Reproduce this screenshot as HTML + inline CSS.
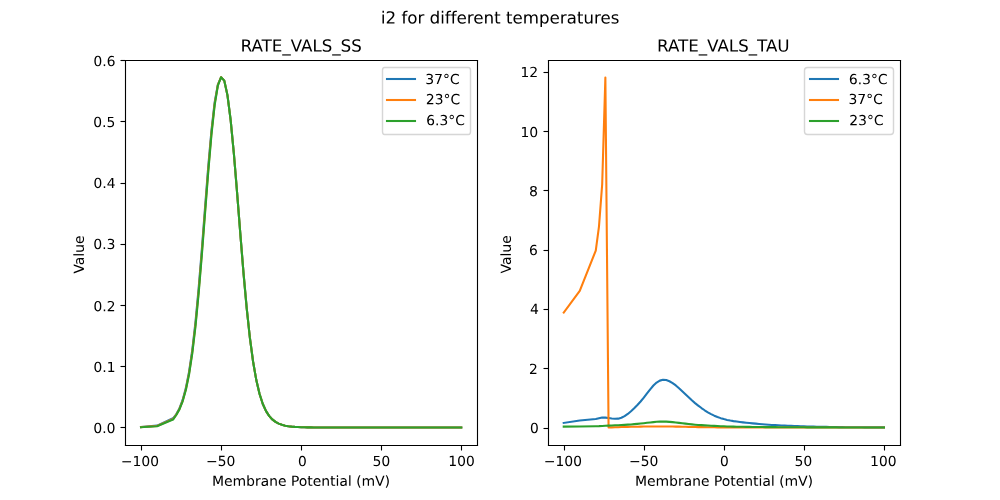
<!DOCTYPE html>
<html><head><meta charset="utf-8"><title>i2 for different temperatures</title>
<style>html,body{margin:0;padding:0;background:#fff;width:1000px;height:500px;overflow:hidden;font-family:"Liberation Sans",sans-serif}#chart{position:absolute;left:0;top:0;width:1000px;height:500px}#labels{position:absolute;left:0;top:0;width:1000px;height:500px;overflow:hidden;pointer-events:none}#labels span{position:absolute;white-space:nowrap;line-height:1;color:transparent;font-family:"Liberation Sans",sans-serif}</style></head>
<body>
<div id="chart">
<svg width="1000" height="500" viewBox="0 0 720 360" style="display:block">
 <defs>
  <style type="text/css">*{stroke-linejoin: round; stroke-linecap: butt}</style>
 </defs>
 <g id="figure_1">
  <g id="patch_1">
   <path d="M 0 360 L 720 360 L 720 0 L 0 0 z
" style="fill: #ffffff"/>
  </g>
  <g id="axes_1">
   <g id="patch_2">
    <path d="M 90 320.4 L 343.636364 320.4 L 343.636364 43.2 L 90 43.2 z
" style="fill: #ffffff"/>
   </g>
   <g id="matplotlib.axis_1">
    <g id="xtick_1">
     <g id="line2d_1">
      <defs>
       <path id="m1504cfccaf" d="M 0 0 L 0 3.6 
" style="stroke: #000000; stroke-width: 0.8"/>
      </defs>
      <g>
       <use href="#m1504cfccaf" x="101.88" y="320.76" style="stroke: #000000; stroke-width: 0.8"/>
      </g>
     </g>
     <g id="text_1">
      <g transform="translate(87.0360 335.6087) scale(0.1 -0.1)">
       <defs>
        <path id="DejaVuSans-2212" d="M 678 2272 L 4684 2272 L 4684 1741 L 678 1741 L 678 2272 z
" transform="scale(0.015625)"/>
        <path id="DejaVuSans-31" d="M 794 531 L 1825 531 L 1825 4091 L 703 3866 L 703 4441 L 1819 4666 L 2450 4666 L 2450 531 L 3481 531 L 3481 0 L 794 0 L 794 531 z
" transform="scale(0.015625)"/>
        <path id="DejaVuSans-30" d="M 2034 4250 Q 1547 4250 1301 3770 Q 1056 3291 1056 2328 Q 1056 1369 1301 889 Q 1547 409 2034 409 Q 2525 409 2770 889 Q 3016 1369 3016 2328 Q 3016 3291 2770 3770 Q 2525 4250 2034 4250 z M 2034 4750 Q 2819 4750 3233 4129 Q 3647 3509 3647 2328 Q 3647 1150 3233 529 Q 2819 -91 2034 -91 Q 1250 -91 836 529 Q 422 1150 422 2328 Q 422 3509 836 4129 Q 1250 4750 2034 4750 z
" transform="scale(0.015625)"/>
       </defs>
       <use href="#DejaVuSans-2212"/>
       <use href="#DejaVuSans-31" transform="translate(83.789062 0)"/>
       <use href="#DejaVuSans-30" transform="translate(147.412109 0)"/>
       <use href="#DejaVuSans-30" transform="translate(211.035156 0)"/>
      </g>
     </g>
    </g>
    <g id="xtick_2">
     <g id="line2d_2">
      <g>
       <use href="#m1504cfccaf" x="159.48" y="320.76" style="stroke: #000000; stroke-width: 0.8"/>
      </g>
     </g>
     <g id="text_2">
      <g transform="translate(148.3480 335.5036) scale(0.1 -0.1)">
       <defs>
        <path id="DejaVuSans-35" d="M 691 4666 L 3169 4666 L 3169 4134 L 1269 4134 L 1269 2991 Q 1406 3038 1543 3061 Q 1681 3084 1819 3084 Q 2600 3084 3056 2656 Q 3513 2228 3513 1497 Q 3513 744 3044 326 Q 2575 -91 1722 -91 Q 1428 -91 1123 -41 Q 819 9 494 109 L 494 744 Q 775 591 1075 516 Q 1375 441 1709 441 Q 2250 441 2565 725 Q 2881 1009 2881 1497 Q 2881 1984 2565 2268 Q 2250 2553 1709 2553 Q 1456 2553 1204 2497 Q 953 2441 691 2322 L 691 4666 z
" transform="scale(0.015625)"/>
       </defs>
       <use href="#DejaVuSans-2212"/>
       <use href="#DejaVuSans-35" transform="translate(83.789062 0)"/>
       <use href="#DejaVuSans-30" transform="translate(147.412109 0)"/>
      </g>
     </g>
    </g>
    <g id="xtick_3">
     <g id="line2d_3">
      <g>
       <use href="#m1504cfccaf" x="217.08" y="320.76" style="stroke: #000000; stroke-width: 0.8"/>
      </g>
     </g>
     <g id="text_3">
      <g transform="translate(214.5185 335.6001) scale(0.1 -0.1)">
       <use href="#DejaVuSans-30"/>
      </g>
     </g>
    </g>
    <g id="xtick_4">
     <g id="line2d_4">
      <g>
       <use href="#m1504cfccaf" x="274.68" y="320.76" style="stroke: #000000; stroke-width: 0.8"/>
      </g>
     </g>
     <g id="text_4">
      <g transform="translate(268.2398 335.5389) scale(0.1 -0.1)">
       <use href="#DejaVuSans-35"/>
       <use href="#DejaVuSans-30" transform="translate(63.623047 0)"/>
      </g>
     </g>
    </g>
    <g id="xtick_5">
     <g id="line2d_5">
      <g>
       <use href="#m1504cfccaf" x="332.28" y="320.76" style="stroke: #000000; stroke-width: 0.8"/>
      </g>
     </g>
     <g id="text_5">
      <g transform="translate(322.7536 335.5022) scale(0.1 -0.1)">
       <use href="#DejaVuSans-31"/>
       <use href="#DejaVuSans-30" transform="translate(63.623047 0)"/>
       <use href="#DejaVuSans-30" transform="translate(127.246094 0)"/>
      </g>
     </g>
    </g>
    <g id="text_6">
     <g transform="translate(152.6874 349.8162) scale(0.1 -0.1)">
      <defs>
       <path id="DejaVuSans-4d" d="M 628 4666 L 1569 4666 L 2759 1491 L 3956 4666 L 4897 4666 L 4897 0 L 4281 0 L 4281 4097 L 3078 897 L 2444 897 L 1241 4097 L 1241 0 L 628 0 L 628 4666 z
" transform="scale(0.015625)"/>
       <path id="DejaVuSans-65" d="M 3597 1894 L 3597 1613 L 953 1613 Q 991 1019 1311 708 Q 1631 397 2203 397 Q 2534 397 2845 478 Q 3156 559 3463 722 L 3463 178 Q 3153 47 2828 -22 Q 2503 -91 2169 -91 Q 1331 -91 842 396 Q 353 884 353 1716 Q 353 2575 817 3079 Q 1281 3584 2069 3584 Q 2775 3584 3186 3129 Q 3597 2675 3597 1894 z M 3022 2063 Q 3016 2534 2758 2815 Q 2500 3097 2075 3097 Q 1594 3097 1305 2825 Q 1016 2553 972 2059 L 3022 2063 z
" transform="scale(0.015625)"/>
       <path id="DejaVuSans-6d" d="M 3328 2828 Q 3544 3216 3844 3400 Q 4144 3584 4550 3584 Q 5097 3584 5394 3201 Q 5691 2819 5691 2113 L 5691 0 L 5113 0 L 5113 2094 Q 5113 2597 4934 2840 Q 4756 3084 4391 3084 Q 3944 3084 3684 2787 Q 3425 2491 3425 1978 L 3425 0 L 2847 0 L 2847 2094 Q 2847 2600 2669 2842 Q 2491 3084 2119 3084 Q 1678 3084 1418 2786 Q 1159 2488 1159 1978 L 1159 0 L 581 0 L 581 3500 L 1159 3500 L 1159 2956 Q 1356 3278 1631 3431 Q 1906 3584 2284 3584 Q 2666 3584 2933 3390 Q 3200 3197 3328 2828 z
" transform="scale(0.015625)"/>
       <path id="DejaVuSans-62" d="M 3116 1747 Q 3116 2381 2855 2742 Q 2594 3103 2138 3103 Q 1681 3103 1420 2742 Q 1159 2381 1159 1747 Q 1159 1113 1420 752 Q 1681 391 2138 391 Q 2594 391 2855 752 Q 3116 1113 3116 1747 z M 1159 2969 Q 1341 3281 1617 3432 Q 1894 3584 2278 3584 Q 2916 3584 3314 3078 Q 3713 2572 3713 1747 Q 3713 922 3314 415 Q 2916 -91 2278 -91 Q 1894 -91 1617 61 Q 1341 213 1159 525 L 1159 0 L 581 0 L 581 4863 L 1159 4863 L 1159 2969 z
" transform="scale(0.015625)"/>
       <path id="DejaVuSans-72" d="M 2631 2963 Q 2534 3019 2420 3045 Q 2306 3072 2169 3072 Q 1681 3072 1420 2755 Q 1159 2438 1159 1844 L 1159 0 L 581 0 L 581 3500 L 1159 3500 L 1159 2956 Q 1341 3275 1631 3429 Q 1922 3584 2338 3584 Q 2397 3584 2469 3576 Q 2541 3569 2628 3553 L 2631 2963 z
" transform="scale(0.015625)"/>
       <path id="DejaVuSans-61" d="M 2194 1759 Q 1497 1759 1228 1600 Q 959 1441 959 1056 Q 959 750 1161 570 Q 1363 391 1709 391 Q 2188 391 2477 730 Q 2766 1069 2766 1631 L 2766 1759 L 2194 1759 z M 3341 1997 L 3341 0 L 2766 0 L 2766 531 Q 2569 213 2275 61 Q 1981 -91 1556 -91 Q 1019 -91 701 211 Q 384 513 384 1019 Q 384 1609 779 1909 Q 1175 2209 1959 2209 L 2766 2209 L 2766 2266 Q 2766 2663 2505 2880 Q 2244 3097 1772 3097 Q 1472 3097 1187 3025 Q 903 2953 641 2809 L 641 3341 Q 956 3463 1253 3523 Q 1550 3584 1831 3584 Q 2591 3584 2966 3190 Q 3341 2797 3341 1997 z
" transform="scale(0.015625)"/>
       <path id="DejaVuSans-6e" d="M 3513 2113 L 3513 0 L 2938 0 L 2938 2094 Q 2938 2591 2744 2837 Q 2550 3084 2163 3084 Q 1697 3084 1428 2787 Q 1159 2491 1159 1978 L 1159 0 L 581 0 L 581 3500 L 1159 3500 L 1159 2956 Q 1366 3272 1645 3428 Q 1925 3584 2291 3584 Q 2894 3584 3203 3211 Q 3513 2838 3513 2113 z
" transform="scale(0.015625)"/>
       <path id="DejaVuSans-20" transform="scale(0.015625)"/>
       <path id="DejaVuSans-50" d="M 1259 4147 L 1259 2394 L 2053 2394 Q 2494 2394 2734 2622 Q 2975 2850 2975 3272 Q 2975 3691 2734 3919 Q 2494 4147 2053 4147 L 1259 4147 z M 628 4666 L 2053 4666 Q 2838 4666 3239 4311 Q 3641 3956 3641 3272 Q 3641 2581 3239 2228 Q 2838 1875 2053 1875 L 1259 1875 L 1259 0 L 628 0 L 628 4666 z
" transform="scale(0.015625)"/>
       <path id="DejaVuSans-6f" d="M 1959 3097 Q 1497 3097 1228 2736 Q 959 2375 959 1747 Q 959 1119 1226 758 Q 1494 397 1959 397 Q 2419 397 2687 759 Q 2956 1122 2956 1747 Q 2956 2369 2687 2733 Q 2419 3097 1959 3097 z M 1959 3584 Q 2709 3584 3137 3096 Q 3566 2609 3566 1747 Q 3566 888 3137 398 Q 2709 -91 1959 -91 Q 1206 -91 779 398 Q 353 888 353 1747 Q 353 2609 779 3096 Q 1206 3584 1959 3584 z
" transform="scale(0.015625)"/>
       <path id="DejaVuSans-74" d="M 1172 4494 L 1172 3500 L 2356 3500 L 2356 3053 L 1172 3053 L 1172 1153 Q 1172 725 1289 603 Q 1406 481 1766 481 L 2356 481 L 2356 0 L 1766 0 Q 1100 0 847 248 Q 594 497 594 1153 L 594 3053 L 172 3053 L 172 3500 L 594 3500 L 594 4494 L 1172 4494 z
" transform="scale(0.015625)"/>
       <path id="DejaVuSans-69" d="M 603 3500 L 1178 3500 L 1178 0 L 603 0 L 603 3500 z M 603 4863 L 1178 4863 L 1178 4134 L 603 4134 L 603 4863 z
" transform="scale(0.015625)"/>
       <path id="DejaVuSans-6c" d="M 603 4863 L 1178 4863 L 1178 0 L 603 0 L 603 4863 z
" transform="scale(0.015625)"/>
       <path id="DejaVuSans-28" d="M 1984 4856 Q 1566 4138 1362 3434 Q 1159 2731 1159 2009 Q 1159 1288 1364 580 Q 1569 -128 1984 -844 L 1484 -844 Q 1016 -109 783 600 Q 550 1309 550 2009 Q 550 2706 781 3412 Q 1013 4119 1484 4856 L 1984 4856 z
" transform="scale(0.015625)"/>
       <path id="DejaVuSans-56" d="M 1831 0 L 50 4666 L 709 4666 L 2188 738 L 3669 4666 L 4325 4666 L 2547 0 L 1831 0 z
" transform="scale(0.015625)"/>
       <path id="DejaVuSans-29" d="M 513 4856 L 1013 4856 Q 1481 4119 1714 3412 Q 1947 2706 1947 2009 Q 1947 1309 1714 600 Q 1481 -109 1013 -844 L 513 -844 Q 928 -128 1133 580 Q 1338 1288 1338 2009 Q 1338 2731 1133 3434 Q 928 4138 513 4856 z
" transform="scale(0.015625)"/>
      </defs>
      <use href="#DejaVuSans-4d"/>
      <use href="#DejaVuSans-65" transform="translate(86.279297 0)"/>
      <use href="#DejaVuSans-6d" transform="translate(147.802734 0)"/>
      <use href="#DejaVuSans-62" transform="translate(245.214844 0)"/>
      <use href="#DejaVuSans-72" transform="translate(308.691406 0)"/>
      <use href="#DejaVuSans-61" transform="translate(349.804688 0)"/>
      <use href="#DejaVuSans-6e" transform="translate(411.083984 0)"/>
      <use href="#DejaVuSans-65" transform="translate(474.462891 0)"/>
      <use href="#DejaVuSans-20" transform="translate(535.986328 0)"/>
      <use href="#DejaVuSans-50" transform="translate(567.773438 0)"/>
      <use href="#DejaVuSans-6f" transform="translate(624.451172 0)"/>
      <use href="#DejaVuSans-74" transform="translate(685.632812 0)"/>
      <use href="#DejaVuSans-65" transform="translate(724.841797 0)"/>
      <use href="#DejaVuSans-6e" transform="translate(786.365234 0)"/>
      <use href="#DejaVuSans-74" transform="translate(849.744141 0)"/>
      <use href="#DejaVuSans-69" transform="translate(888.953125 0)"/>
      <use href="#DejaVuSans-61" transform="translate(916.736328 0)"/>
      <use href="#DejaVuSans-6c" transform="translate(978.015625 0)"/>
      <use href="#DejaVuSans-20" transform="translate(1005.798828 0)"/>
      <use href="#DejaVuSans-28" transform="translate(1037.585938 0)"/>
      <use href="#DejaVuSans-6d" transform="translate(1076.599609 0)"/>
      <use href="#DejaVuSans-56" transform="translate(1174.011719 0)"/>
      <use href="#DejaVuSans-29" transform="translate(1242.419922 0)"/>
     </g>
    </g>
   </g>
   <g id="matplotlib.axis_2">
    <g id="ytick_1">
     <g id="line2d_6">
      <defs>
       <path id="m5d545ce8f8" d="M 0 0 L -3.6 0 
" style="stroke: #000000; stroke-width: 0.8"/>
      </defs>
      <g>
       <use href="#m5d545ce8f8" x="90.36" y="307.8" style="stroke: #000000; stroke-width: 0.8"/>
      </g>
     </g>
     <g id="text_7">
      <g transform="translate(67.2226 311.7898) scale(0.1 -0.1)">
       <defs>
        <path id="DejaVuSans-2e" d="M 684 794 L 1344 794 L 1344 0 L 684 0 L 684 794 z
" transform="scale(0.015625)"/>
       </defs>
       <use href="#DejaVuSans-30"/>
       <use href="#DejaVuSans-2e" transform="translate(63.623047 0)"/>
       <use href="#DejaVuSans-30" transform="translate(95.410156 0)"/>
      </g>
     </g>
    </g>
    <g id="ytick_2">
     <g id="line2d_7">
      <g>
       <use href="#m5d545ce8f8" x="90.36" y="263.88" style="stroke: #000000; stroke-width: 0.8"/>
      </g>
     </g>
     <g id="text_8">
      <g transform="translate(67.2759 267.8449) scale(0.1 -0.1)">
       <use href="#DejaVuSans-30"/>
       <use href="#DejaVuSans-2e" transform="translate(63.623047 0)"/>
       <use href="#DejaVuSans-31" transform="translate(95.410156 0)"/>
      </g>
     </g>
    </g>
    <g id="ytick_3">
     <g id="line2d_8">
      <g>
       <use href="#m5d545ce8f8" x="90.36" y="219.96" style="stroke: #000000; stroke-width: 0.8"/>
      </g>
     </g>
     <g id="text_9">
      <g transform="translate(67.2781 224.0729) scale(0.1 -0.1)">
       <defs>
        <path id="DejaVuSans-32" d="M 1228 531 L 3431 531 L 3431 0 L 469 0 L 469 531 Q 828 903 1448 1529 Q 2069 2156 2228 2338 Q 2531 2678 2651 2914 Q 2772 3150 2772 3378 Q 2772 3750 2511 3984 Q 2250 4219 1831 4219 Q 1534 4219 1204 4116 Q 875 4013 500 3803 L 500 4441 Q 881 4594 1212 4672 Q 1544 4750 1819 4750 Q 2544 4750 2975 4387 Q 3406 4025 3406 3419 Q 3406 3131 3298 2873 Q 3191 2616 2906 2266 Q 2828 2175 2409 1742 Q 1991 1309 1228 531 z
" transform="scale(0.015625)"/>
       </defs>
       <use href="#DejaVuSans-30"/>
       <use href="#DejaVuSans-2e" transform="translate(63.623047 0)"/>
       <use href="#DejaVuSans-32" transform="translate(95.410156 0)"/>
      </g>
     </g>
    </g>
    <g id="ytick_4">
     <g id="line2d_9">
      <g>
       <use href="#m5d545ce8f8" x="90.36" y="176.04" style="stroke: #000000; stroke-width: 0.8"/>
      </g>
     </g>
     <g id="text_10">
      <g transform="translate(67.2068 179.3080) scale(0.1 -0.1)">
       <defs>
        <path id="DejaVuSans-33" d="M 2597 2516 Q 3050 2419 3304 2112 Q 3559 1806 3559 1356 Q 3559 666 3084 287 Q 2609 -91 1734 -91 Q 1441 -91 1130 -33 Q 819 25 488 141 L 488 750 Q 750 597 1062 519 Q 1375 441 1716 441 Q 2309 441 2620 675 Q 2931 909 2931 1356 Q 2931 1769 2642 2001 Q 2353 2234 1838 2234 L 1294 2234 L 1294 2753 L 1863 2753 Q 2328 2753 2575 2939 Q 2822 3125 2822 3475 Q 2822 3834 2567 4026 Q 2313 4219 1838 4219 Q 1578 4219 1281 4162 Q 984 4106 628 3988 L 628 4550 Q 988 4650 1302 4700 Q 1616 4750 1894 4750 Q 2613 4750 3031 4423 Q 3450 4097 3450 3541 Q 3450 3153 3228 2886 Q 3006 2619 2597 2516 z
" transform="scale(0.015625)"/>
       </defs>
       <use href="#DejaVuSans-30"/>
       <use href="#DejaVuSans-2e" transform="translate(63.623047 0)"/>
       <use href="#DejaVuSans-33" transform="translate(95.410156 0)"/>
      </g>
     </g>
    </g>
    <g id="ytick_5">
     <g id="line2d_10">
      <g>
       <use href="#m5d545ce8f8" x="90.36" y="132.12" style="stroke: #000000; stroke-width: 0.8"/>
      </g>
     </g>
     <g id="text_11">
      <g transform="translate(67.2903 135.3668) scale(0.1 -0.1)">
       <defs>
        <path id="DejaVuSans-34" d="M 2419 4116 L 825 1625 L 2419 1625 L 2419 4116 z M 2253 4666 L 3047 4666 L 3047 1625 L 3713 1625 L 3713 1100 L 3047 1100 L 3047 0 L 2419 0 L 2419 1100 L 313 1100 L 313 1709 L 2253 4666 z
" transform="scale(0.015625)"/>
       </defs>
       <use href="#DejaVuSans-30"/>
       <use href="#DejaVuSans-2e" transform="translate(63.623047 0)"/>
       <use href="#DejaVuSans-34" transform="translate(95.410156 0)"/>
      </g>
     </g>
    </g>
    <g id="ytick_6">
     <g id="line2d_11">
      <g>
       <use href="#m5d545ce8f8" x="90.36" y="87.48" style="stroke: #000000; stroke-width: 0.8"/>
      </g>
     </g>
     <g id="text_12">
      <g transform="translate(67.1305 91.4695) scale(0.1 -0.1)">
       <use href="#DejaVuSans-30"/>
       <use href="#DejaVuSans-2e" transform="translate(63.623047 0)"/>
       <use href="#DejaVuSans-35" transform="translate(95.410156 0)"/>
      </g>
     </g>
    </g>
    <g id="ytick_7">
     <g id="line2d_12">
      <g>
       <use href="#m5d545ce8f8" x="90.36" y="43.56" style="stroke: #000000; stroke-width: 0.8"/>
      </g>
     </g>
     <g id="text_13">
      <g transform="translate(67.2594 47.5787) scale(0.1 -0.1)">
       <defs>
        <path id="DejaVuSans-36" d="M 2113 2584 Q 1688 2584 1439 2293 Q 1191 2003 1191 1497 Q 1191 994 1439 701 Q 1688 409 2113 409 Q 2538 409 2786 701 Q 3034 994 3034 1497 Q 3034 2003 2786 2293 Q 2538 2584 2113 2584 z M 3366 4563 L 3366 3988 Q 3128 4100 2886 4159 Q 2644 4219 2406 4219 Q 1781 4219 1451 3797 Q 1122 3375 1075 2522 Q 1259 2794 1537 2939 Q 1816 3084 2150 3084 Q 2853 3084 3261 2657 Q 3669 2231 3669 1497 Q 3669 778 3244 343 Q 2819 -91 2113 -91 Q 1303 -91 875 529 Q 447 1150 447 2328 Q 447 3434 972 4092 Q 1497 4750 2381 4750 Q 2619 4750 2861 4703 Q 3103 4656 3366 4563 z
" transform="scale(0.015625)"/>
       </defs>
       <use href="#DejaVuSans-30"/>
       <use href="#DejaVuSans-2e" transform="translate(63.623047 0)"/>
       <use href="#DejaVuSans-36" transform="translate(95.410156 0)"/>
      </g>
     </g>
    </g>
    <g id="text_14">
     <g transform="translate(60.3743 196.9952) rotate(-90) scale(0.1 -0.1)">
      <defs>
       <path id="DejaVuSans-75" d="M 544 1381 L 544 3500 L 1119 3500 L 1119 1403 Q 1119 906 1312 657 Q 1506 409 1894 409 Q 2359 409 2629 706 Q 2900 1003 2900 1516 L 2900 3500 L 3475 3500 L 3475 0 L 2900 0 L 2900 538 Q 2691 219 2414 64 Q 2138 -91 1772 -91 Q 1169 -91 856 284 Q 544 659 544 1381 z M 1991 3584 L 1991 3584 z
" transform="scale(0.015625)"/>
      </defs>
      <use href="#DejaVuSans-56"/>
      <use href="#DejaVuSans-61" transform="translate(60.658203 0)"/>
      <use href="#DejaVuSans-6c" transform="translate(121.9375 0)"/>
      <use href="#DejaVuSans-75" transform="translate(149.720703 0)"/>
      <use href="#DejaVuSans-65" transform="translate(213.099609 0)"/>
     </g>
    </g>
   </g>
   <g id="line2d_13">
    <path d="M 101.528926 307.44607 L 113.057851 306.476068 L 124.586777 301.18515 L 126.892562 298.305343 L 129.198347 294.028877 L 131.504132 287.946856 L 133.809917 279.423101 L 136.115702 267.721035 L 138.421488 252.104925 L 140.727273 232.044038 L 143.033058 207.516814 L 145.338843 179.327304 L 147.644628 149.249237 L 149.950413 119.818885 L 152.256198 93.791254 L 154.561983 73.528561 L 156.867769 60.925165 L 159.173554 55.691498 L 161.479339 58.045388 L 163.785124 68.66049 L 166.090909 86.676528 L 168.396694 110.690602 L 170.702479 138.641779 L 173.008264 168.035085 L 175.31405 196.412781 L 177.619835 221.861544 L 179.92562 243.301142 L 182.231405 260.462888 L 184.53719 273.657485 L 186.842975 283.49467 L 189.14876 290.663095 L 191.454545 295.800702 L 193.760331 299.439282 L 196.066116 301.994609 L 198.371901 303.778606 L 200.677686 305.018973 L 202.983471 305.878899 L 205.289256 306.473888 L 207.595041 306.884999 L 209.900826 307.168789 L 212.206612 307.364562 L 214.512397 307.499554 L 216.818182 307.592607 L 219.123967 307.656736 L 221.429752 307.700926 L 223.735537 307.731373 L 226.041322 307.752349 L 228.347107 307.766801 L 230.652893 307.776756 L 232.958678 307.783614 L 235.264463 307.788338 L 237.570248 307.791593 L 239.876033 307.793834 L 242.181818 307.795379 L 244.487603 307.796442 L 246.793388 307.797175 L 249.099174 307.79768 L 251.404959 307.798028 L 253.710744 307.798267 L 256.016529 307.798432 L 258.322314 307.798546 L 260.628099 307.798624 L 262.933884 307.798678 L 265.239669 307.798715 L 267.545455 307.798741 L 269.85124 307.798758 L 272.157025 307.798771 L 274.46281 307.798779 L 276.768595 307.798785 L 279.07438 307.798789 L 281.380165 307.798791 L 283.68595 307.798793 L 285.991736 307.798795 L 288.297521 307.798796 L 290.603306 307.798796 L 292.909091 307.798797 L 295.214876 307.798797 L 297.520661 307.798797 L 299.826446 307.798797 L 302.132231 307.798797 L 304.438017 307.798797 L 306.743802 307.798797 L 309.049587 307.798797 L 311.355372 307.798797 L 313.661157 307.798797 L 315.966942 307.798797 L 318.272727 307.798798 L 320.578512 307.798798 L 322.884298 307.798798 L 325.190083 307.798798 L 327.495868 307.798798 L 329.801653 307.798798 L 332.107438 307.798798 
" clip-path="url(#p08bcbeef4a)" style="fill: none; stroke: #1f77b4; stroke-width: 1.5; stroke-linecap: square"/>
   </g>
   <g id="line2d_14">
    <path d="M 101.528926 307.534252 L 113.057851 306.740614 L 124.586777 301.714242 L 126.892562 298.601549 L 129.198347 294.452542 L 131.504132 288.545373 L 133.809917 280.253915 L 136.115702 268.846334 L 138.421488 253.578658 L 140.727273 233.889308 L 143.033058 209.696881 L 145.338843 181.72255 L 147.644628 151.658693 L 149.950413 121.996489 L 152.256198 95.503399 L 154.561983 74.601993 L 156.867769 61.168697 L 159.173554 55.567296 L 161.479339 58.045388 L 163.785124 68.66049 L 166.090909 86.676528 L 168.396694 110.690602 L 170.702479 138.641779 L 173.008264 168.035085 L 175.31405 196.412781 L 177.619835 221.861544 L 179.92562 243.301142 L 182.231405 260.462888 L 184.53719 273.657485 L 186.842975 283.49467 L 189.14876 290.663095 L 191.454545 295.800702 L 193.760331 299.439282 L 196.066116 301.994609 L 198.371901 303.778606 L 200.677686 305.018973 L 202.983471 305.878899 L 205.289256 306.473888 L 207.595041 306.884999 L 209.900826 307.168789 L 212.206612 307.364562 L 214.512397 307.499554 L 216.818182 307.592607 L 219.123967 307.656736 L 221.429752 307.700926 L 223.735537 307.731373 L 226.041322 307.752349 L 228.347107 307.766801 L 230.652893 307.776756 L 232.958678 307.783614 L 235.264463 307.788338 L 237.570248 307.791593 L 239.876033 307.793834 L 242.181818 307.795379 L 244.487603 307.796442 L 246.793388 307.797175 L 249.099174 307.79768 L 251.404959 307.798028 L 253.710744 307.798267 L 256.016529 307.798432 L 258.322314 307.798546 L 260.628099 307.798624 L 262.933884 307.798678 L 265.239669 307.798715 L 267.545455 307.798741 L 269.85124 307.798758 L 272.157025 307.798771 L 274.46281 307.798779 L 276.768595 307.798785 L 279.07438 307.798789 L 281.380165 307.798791 L 283.68595 307.798793 L 285.991736 307.798795 L 288.297521 307.798796 L 290.603306 307.798796 L 292.909091 307.798797 L 295.214876 307.798797 L 297.520661 307.798797 L 299.826446 307.798797 L 302.132231 307.798797 L 304.438017 307.798797 L 306.743802 307.798797 L 309.049587 307.798797 L 311.355372 307.798797 L 313.661157 307.798797 L 315.966942 307.798797 L 318.272727 307.798798 L 320.578512 307.798798 L 322.884298 307.798798 L 325.190083 307.798798 L 327.495868 307.798798 L 329.801653 307.798798 L 332.107438 307.798798 
" clip-path="url(#p08bcbeef4a)" style="fill: none; stroke: #ff7f0e; stroke-width: 1.5; stroke-linecap: square"/>
   </g>
   <g id="line2d_15">
    <path d="M 101.528926 307.578343 L 113.057851 306.916978 L 124.586777 302.06697 L 126.892562 298.806042 L 129.198347 294.745495 L 131.504132 288.960188 L 133.809917 280.831653 L 136.115702 269.632613 L 138.421488 254.615462 L 140.727273 235.200138 L 143.033058 211.266891 L 145.338843 183.481398 L 147.644628 153.478644 L 149.950413 123.713893 L 152.256198 96.956297 L 154.561983 75.663695 L 156.867769 61.567206 L 159.173554 55.600844 L 161.479339 58.045388 L 163.785124 68.66049 L 166.090909 86.676528 L 168.396694 110.690602 L 170.702479 138.641779 L 173.008264 168.035085 L 175.31405 196.412781 L 177.619835 221.861544 L 179.92562 243.301142 L 182.231405 260.462888 L 184.53719 273.657485 L 186.842975 283.49467 L 189.14876 290.663095 L 191.454545 295.800702 L 193.760331 299.439282 L 196.066116 301.994609 L 198.371901 303.778606 L 200.677686 305.018973 L 202.983471 305.878899 L 205.289256 306.473888 L 207.595041 306.884999 L 209.900826 307.168789 L 212.206612 307.364562 L 214.512397 307.499554 L 216.818182 307.592607 L 219.123967 307.656736 L 221.429752 307.700926 L 223.735537 307.731373 L 226.041322 307.752349 L 228.347107 307.766801 L 230.652893 307.776756 L 232.958678 307.783614 L 235.264463 307.788338 L 237.570248 307.791593 L 239.876033 307.793834 L 242.181818 307.795379 L 244.487603 307.796442 L 246.793388 307.797175 L 249.099174 307.79768 L 251.404959 307.798028 L 253.710744 307.798267 L 256.016529 307.798432 L 258.322314 307.798546 L 260.628099 307.798624 L 262.933884 307.798678 L 265.239669 307.798715 L 267.545455 307.798741 L 269.85124 307.798758 L 272.157025 307.798771 L 274.46281 307.798779 L 276.768595 307.798785 L 279.07438 307.798789 L 281.380165 307.798791 L 283.68595 307.798793 L 285.991736 307.798795 L 288.297521 307.798796 L 290.603306 307.798796 L 292.909091 307.798797 L 295.214876 307.798797 L 297.520661 307.798797 L 299.826446 307.798797 L 302.132231 307.798797 L 304.438017 307.798797 L 306.743802 307.798797 L 309.049587 307.798797 L 311.355372 307.798797 L 313.661157 307.798797 L 315.966942 307.798797 L 318.272727 307.798798 L 320.578512 307.798798 L 322.884298 307.798798 L 325.190083 307.798798 L 327.495868 307.798798 L 329.801653 307.798798 L 332.107438 307.798798 
" clip-path="url(#p08bcbeef4a)" style="fill: none; stroke: #2ca02c; stroke-width: 1.5; stroke-linecap: square"/>
   </g>
   <g id="patch_3">
    <path d="M 90.36 320.76 L 90.36 43.56 " style="fill: none; stroke: #000000; stroke-width: 0.8; stroke-linejoin: miter; stroke-linecap: square"/>
   </g>
   <g id="patch_4">
    <path d="M 343.8 320.76 L 343.8 43.56 " style="fill: none; stroke: #000000; stroke-width: 0.8; stroke-linejoin: miter; stroke-linecap: square"/>
   </g>
   <g id="patch_5">
    <path d="M 90.36 320.76 L 343.8 320.76 " style="fill: none; stroke: #000000; stroke-width: 0.8; stroke-linejoin: miter; stroke-linecap: square"/>
   </g>
   <g id="patch_6">
    <path d="M 90.36 43.56 L 343.8 43.56 " style="fill: none; stroke: #000000; stroke-width: 0.8; stroke-linejoin: miter; stroke-linecap: square"/>
   </g>
   <g id="text_15">
    <g transform="translate(173.2438 37.1424) scale(0.12 -0.12)">
     <defs>
      <path id="DejaVuSans-52" d="M 2841 2188 Q 3044 2119 3236 1894 Q 3428 1669 3622 1275 L 4263 0 L 3584 0 L 2988 1197 Q 2756 1666 2539 1819 Q 2322 1972 1947 1972 L 1259 1972 L 1259 0 L 628 0 L 628 4666 L 2053 4666 Q 2853 4666 3247 4331 Q 3641 3997 3641 3322 Q 3641 2881 3436 2590 Q 3231 2300 2841 2188 z M 1259 4147 L 1259 2491 L 2053 2491 Q 2509 2491 2742 2702 Q 2975 2913 2975 3322 Q 2975 3731 2742 3939 Q 2509 4147 2053 4147 L 1259 4147 z
" transform="scale(0.015625)"/>
      <path id="DejaVuSans-41" d="M 2188 4044 L 1331 1722 L 3047 1722 L 2188 4044 z M 1831 4666 L 2547 4666 L 4325 0 L 3669 0 L 3244 1197 L 1141 1197 L 716 0 L 50 0 L 1831 4666 z
" transform="scale(0.015625)"/>
      <path id="DejaVuSans-54" d="M -19 4666 L 3928 4666 L 3928 4134 L 2272 4134 L 2272 0 L 1638 0 L 1638 4134 L -19 4134 L -19 4666 z
" transform="scale(0.015625)"/>
      <path id="DejaVuSans-45" d="M 628 4666 L 3578 4666 L 3578 4134 L 1259 4134 L 1259 2753 L 3481 2753 L 3481 2222 L 1259 2222 L 1259 531 L 3634 531 L 3634 0 L 628 0 L 628 4666 z
" transform="scale(0.015625)"/>
      <path id="DejaVuSans-5f" d="M 3263 -1063 L 3263 -1509 L -63 -1509 L -63 -1063 L 3263 -1063 z
" transform="scale(0.015625)"/>
      <path id="DejaVuSans-4c" d="M 628 4666 L 1259 4666 L 1259 531 L 3531 531 L 3531 0 L 628 0 L 628 4666 z
" transform="scale(0.015625)"/>
      <path id="DejaVuSans-53" d="M 3425 4513 L 3425 3897 Q 3066 4069 2747 4153 Q 2428 4238 2131 4238 Q 1616 4238 1336 4038 Q 1056 3838 1056 3469 Q 1056 3159 1242 3001 Q 1428 2844 1947 2747 L 2328 2669 Q 3034 2534 3370 2195 Q 3706 1856 3706 1288 Q 3706 609 3251 259 Q 2797 -91 1919 -91 Q 1588 -91 1214 -16 Q 841 59 441 206 L 441 856 Q 825 641 1194 531 Q 1563 422 1919 422 Q 2459 422 2753 634 Q 3047 847 3047 1241 Q 3047 1584 2836 1778 Q 2625 1972 2144 2069 L 1759 2144 Q 1053 2284 737 2584 Q 422 2884 422 3419 Q 422 4038 858 4394 Q 1294 4750 2059 4750 Q 2388 4750 2728 4690 Q 3069 4631 3425 4513 z
" transform="scale(0.015625)"/>
     </defs>
     <use href="#DejaVuSans-52"/>
     <use href="#DejaVuSans-41" transform="translate(65.482422 0)"/>
     <use href="#DejaVuSans-54" transform="translate(126.140625 0)"/>
     <use href="#DejaVuSans-45" transform="translate(187.224609 0)"/>
     <use href="#DejaVuSans-5f" transform="translate(250.408203 0)"/>
     <use href="#DejaVuSans-56" transform="translate(300.408203 0)"/>
     <use href="#DejaVuSans-41" transform="translate(362.441406 0)"/>
     <use href="#DejaVuSans-4c" transform="translate(430.849609 0)"/>
     <use href="#DejaVuSans-53" transform="translate(486.5625 0)"/>
     <use href="#DejaVuSans-5f" transform="translate(550.039062 0)"/>
     <use href="#DejaVuSans-53" transform="translate(600.039062 0)"/>
     <use href="#DejaVuSans-53" transform="translate(663.515625 0)"/>
    </g>
   </g>
   <g id="legend_1">
    <g id="patch_7">
     <path d="M 276.84 96.84 L 337.32 96.84 Q 338.76 96.84 338.76 94.68 L 338.76 50.76 Q 338.76 48.6 337.32 48.6 L 276.84 48.6 Q 275.4 48.6 275.4 50.76 L 275.4 94.68 Q 275.4 96.84 276.84 96.84 z
" style="fill: #ffffff; opacity: 0.8; stroke: #cccccc; stroke-linejoin: miter"/>
    </g>
    <g id="line2d_16">
     <path d="M 278.64 56.88 L 298.8 56.88 " style="fill: none; stroke: #1f77b4; stroke-width: 1.5; stroke-linecap: square"/>
    </g>
    <g id="text_16">
     <g transform="translate(306.2115 60.5290) scale(0.1 -0.1)">
      <defs>
       <path id="DejaVuSans-37" d="M 525 4666 L 3525 4666 L 3525 4397 L 1831 0 L 1172 0 L 2766 4134 L 525 4134 L 525 4666 z
" transform="scale(0.015625)"/>
       <path id="DejaVuSans-b0" d="M 1600 4347 Q 1350 4347 1178 4173 Q 1006 4000 1006 3750 Q 1006 3503 1178 3333 Q 1350 3163 1600 3163 Q 1850 3163 2022 3333 Q 2194 3503 2194 3750 Q 2194 3997 2020 4172 Q 1847 4347 1600 4347 z M 1600 4750 Q 1800 4750 1984 4673 Q 2169 4597 2303 4453 Q 2447 4313 2519 4134 Q 2591 3956 2591 3750 Q 2591 3338 2302 3052 Q 2013 2766 1594 2766 Q 1172 2766 890 3047 Q 609 3328 609 3750 Q 609 4169 896 4459 Q 1184 4750 1600 4750 z
" transform="scale(0.015625)"/>
       <path id="DejaVuSans-43" d="M 4122 4306 L 4122 3641 Q 3803 3938 3442 4084 Q 3081 4231 2675 4231 Q 1875 4231 1450 3742 Q 1025 3253 1025 2328 Q 1025 1406 1450 917 Q 1875 428 2675 428 Q 3081 428 3442 575 Q 3803 722 4122 1019 L 4122 359 Q 3791 134 3420 21 Q 3050 -91 2638 -91 Q 1578 -91 968 557 Q 359 1206 359 2328 Q 359 3453 968 4101 Q 1578 4750 2638 4750 Q 3056 4750 3426 4639 Q 3797 4528 4122 4306 z
" transform="scale(0.015625)"/>
      </defs>
      <use href="#DejaVuSans-33"/>
      <use href="#DejaVuSans-37" transform="translate(63.623047 0)"/>
      <use href="#DejaVuSans-b0" transform="translate(127.246094 0)"/>
      <use href="#DejaVuSans-43" transform="translate(177.246094 0)"/>
     </g>
    </g>
    <g id="line2d_17">
     <path d="M 278.64 72.0 L 298.8 72.0 " style="fill: none; stroke: #ff7f0e; stroke-width: 1.5; stroke-linecap: square"/>
    </g>
    <g id="text_17">
     <g transform="translate(306.6197 75.0092) scale(0.1 -0.1)">
      <use href="#DejaVuSans-32"/>
      <use href="#DejaVuSans-33" transform="translate(63.623047 0)"/>
      <use href="#DejaVuSans-b0" transform="translate(127.246094 0)"/>
      <use href="#DejaVuSans-43" transform="translate(177.246094 0)"/>
     </g>
    </g>
    <g id="line2d_18">
     <path d="M 278.64 87.12 L 298.8 87.12 " style="fill: none; stroke: #2ca02c; stroke-width: 1.5; stroke-linecap: square"/>
    </g>
    <g id="text_18">
     <g transform="translate(306.8458 90.1014) scale(0.1 -0.1)">
      <use href="#DejaVuSans-36"/>
      <use href="#DejaVuSans-2e" transform="translate(63.623047 0)"/>
      <use href="#DejaVuSans-33" transform="translate(95.410156 0)"/>
      <use href="#DejaVuSans-b0" transform="translate(159.033203 0)"/>
      <use href="#DejaVuSans-43" transform="translate(209.033203 0)"/>
     </g>
    </g>
   </g>
  </g>
  <g id="axes_2">
   <g id="patch_8">
    <path d="M 394.363636 320.4 L 648 320.4 L 648 43.2 L 394.363636 43.2 z
" style="fill: #ffffff"/>
   </g>
   <g id="matplotlib.axis_3">
    <g id="xtick_6">
     <g id="line2d_19">
      <g>
       <use href="#m1504cfccaf" x="406.44" y="320.76" style="stroke: #000000; stroke-width: 0.8"/>
      </g>
     </g>
     <g id="text_19">
      <g transform="translate(391.5653 335.5389) scale(0.1 -0.1)">
       <use href="#DejaVuSans-2212"/>
       <use href="#DejaVuSans-31" transform="translate(83.789062 0)"/>
       <use href="#DejaVuSans-30" transform="translate(147.412109 0)"/>
       <use href="#DejaVuSans-30" transform="translate(211.035156 0)"/>
      </g>
     </g>
    </g>
    <g id="xtick_7">
     <g id="line2d_20">
      <g>
       <use href="#m1504cfccaf" x="464.04" y="320.76" style="stroke: #000000; stroke-width: 0.8"/>
      </g>
     </g>
     <g id="text_20">
      <g transform="translate(452.9075 335.5043) scale(0.1 -0.1)">
       <use href="#DejaVuSans-2212"/>
       <use href="#DejaVuSans-35" transform="translate(83.789062 0)"/>
       <use href="#DejaVuSans-30" transform="translate(147.412109 0)"/>
      </g>
     </g>
    </g>
    <g id="xtick_8">
     <g id="line2d_21">
      <g>
       <use href="#m1504cfccaf" x="521.64" y="320.76" style="stroke: #000000; stroke-width: 0.8"/>
      </g>
     </g>
     <g id="text_21">
      <g transform="translate(518.3565 335.5490) scale(0.1 -0.1)">
       <use href="#DejaVuSans-30"/>
      </g>
     </g>
    </g>
    <g id="xtick_9">
     <g id="line2d_22">
      <g>
       <use href="#m1504cfccaf" x="579.24" y="320.76" style="stroke: #000000; stroke-width: 0.8"/>
      </g>
     </g>
     <g id="text_22">
      <g transform="translate(572.0800 335.5324) scale(0.1 -0.1)">
       <use href="#DejaVuSans-35"/>
       <use href="#DejaVuSans-30" transform="translate(63.623047 0)"/>
      </g>
     </g>
    </g>
    <g id="xtick_10">
     <g id="line2d_23">
      <g>
       <use href="#m1504cfccaf" x="636.84" y="320.76" style="stroke: #000000; stroke-width: 0.8"/>
      </g>
     </g>
     <g id="text_23">
      <g transform="translate(626.4490 335.5482) scale(0.1 -0.1)">
       <use href="#DejaVuSans-31"/>
       <use href="#DejaVuSans-30" transform="translate(63.623047 0)"/>
       <use href="#DejaVuSans-30" transform="translate(127.246094 0)"/>
      </g>
     </g>
    </g>
    <g id="text_24">
     <g transform="translate(457.2390 349.8140) scale(0.1 -0.1)">
      <use href="#DejaVuSans-4d"/>
      <use href="#DejaVuSans-65" transform="translate(86.279297 0)"/>
      <use href="#DejaVuSans-6d" transform="translate(147.802734 0)"/>
      <use href="#DejaVuSans-62" transform="translate(245.214844 0)"/>
      <use href="#DejaVuSans-72" transform="translate(308.691406 0)"/>
      <use href="#DejaVuSans-61" transform="translate(349.804688 0)"/>
      <use href="#DejaVuSans-6e" transform="translate(411.083984 0)"/>
      <use href="#DejaVuSans-65" transform="translate(474.462891 0)"/>
      <use href="#DejaVuSans-20" transform="translate(535.986328 0)"/>
      <use href="#DejaVuSans-50" transform="translate(567.773438 0)"/>
      <use href="#DejaVuSans-6f" transform="translate(624.451172 0)"/>
      <use href="#DejaVuSans-74" transform="translate(685.632812 0)"/>
      <use href="#DejaVuSans-65" transform="translate(724.841797 0)"/>
      <use href="#DejaVuSans-6e" transform="translate(786.365234 0)"/>
      <use href="#DejaVuSans-74" transform="translate(849.744141 0)"/>
      <use href="#DejaVuSans-69" transform="translate(888.953125 0)"/>
      <use href="#DejaVuSans-61" transform="translate(916.736328 0)"/>
      <use href="#DejaVuSans-6c" transform="translate(978.015625 0)"/>
      <use href="#DejaVuSans-20" transform="translate(1005.798828 0)"/>
      <use href="#DejaVuSans-28" transform="translate(1037.585938 0)"/>
      <use href="#DejaVuSans-6d" transform="translate(1076.599609 0)"/>
      <use href="#DejaVuSans-56" transform="translate(1174.011719 0)"/>
      <use href="#DejaVuSans-29" transform="translate(1242.419922 0)"/>
     </g>
    </g>
   </g>
   <g id="matplotlib.axis_4">
    <g id="ytick_8">
     <g id="line2d_24">
      <g>
       <use href="#m5d545ce8f8" x="394.92" y="308.52" style="stroke: #000000; stroke-width: 0.8"/>
      </g>
     </g>
     <g id="text_25">
      <g transform="translate(381.5568 311.7866) scale(0.1 -0.1)">
       <use href="#DejaVuSans-30"/>
      </g>
     </g>
    </g>
    <g id="ytick_9">
     <g id="line2d_25">
      <g>
       <use href="#m5d545ce8f8" x="394.92" y="265.32" style="stroke: #000000; stroke-width: 0.8"/>
      </g>
     </g>
     <g id="text_26">
      <g transform="translate(380.8476 269.2744) scale(0.1 -0.1)">
       <use href="#DejaVuSans-32"/>
      </g>
     </g>
    </g>
    <g id="ytick_10">
     <g id="line2d_26">
      <g>
       <use href="#m5d545ce8f8" x="394.92" y="222.84" style="stroke: #000000; stroke-width: 0.8"/>
      </g>
     </g>
     <g id="text_27">
      <g transform="translate(381.6202 225.9989) scale(0.1 -0.1)">
       <use href="#DejaVuSans-34"/>
      </g>
     </g>
    </g>
    <g id="ytick_11">
     <g id="line2d_27">
      <g>
       <use href="#m5d545ce8f8" x="394.92" y="180.36" style="stroke: #000000; stroke-width: 0.8"/>
      </g>
     </g>
     <g id="text_28">
      <g transform="translate(380.8570 183.6350) scale(0.1 -0.1)">
       <use href="#DejaVuSans-36"/>
      </g>
     </g>
    </g>
    <g id="ytick_12">
     <g id="line2d_28">
      <g>
       <use href="#m5d545ce8f8" x="394.92" y="137.16" style="stroke: #000000; stroke-width: 0.8"/>
      </g>
     </g>
     <g id="text_29">
      <g transform="translate(380.9283 141.2581) scale(0.1 -0.1)">
       <defs>
        <path id="DejaVuSans-38" d="M 2034 2216 Q 1584 2216 1326 1975 Q 1069 1734 1069 1313 Q 1069 891 1326 650 Q 1584 409 2034 409 Q 2484 409 2743 651 Q 3003 894 3003 1313 Q 3003 1734 2745 1975 Q 2488 2216 2034 2216 z M 1403 2484 Q 997 2584 770 2862 Q 544 3141 544 3541 Q 544 4100 942 4425 Q 1341 4750 2034 4750 Q 2731 4750 3128 4425 Q 3525 4100 3525 3541 Q 3525 3141 3298 2862 Q 3072 2584 2669 2484 Q 3125 2378 3379 2068 Q 3634 1759 3634 1313 Q 3634 634 3220 271 Q 2806 -91 2034 -91 Q 1263 -91 848 271 Q 434 634 434 1313 Q 434 1759 690 2068 Q 947 2378 1403 2484 z M 1172 3481 Q 1172 3119 1398 2916 Q 1625 2713 2034 2713 Q 2441 2713 2670 2916 Q 2900 3119 2900 3481 Q 2900 3844 2670 4047 Q 2441 4250 2034 4250 Q 1625 4250 1398 4047 Q 1172 3844 1172 3481 z
" transform="scale(0.015625)"/>
       </defs>
       <use href="#DejaVuSans-38"/>
      </g>
     </g>
    </g>
    <g id="ytick_13">
     <g id="line2d_29">
      <g>
       <use href="#m5d545ce8f8" x="394.92" y="94.68" style="stroke: #000000; stroke-width: 0.8"/>
      </g>
     </g>
     <g id="text_30">
      <g transform="translate(374.7464 98.7293) scale(0.1 -0.1)">
       <use href="#DejaVuSans-31"/>
       <use href="#DejaVuSans-30" transform="translate(63.623047 0)"/>
      </g>
     </g>
    </g>
    <g id="ytick_14">
     <g id="line2d_30">
      <g>
       <use href="#m5d545ce8f8" x="394.92" y="52.2" style="stroke: #000000; stroke-width: 0.8"/>
      </g>
     </g>
     <g id="text_31">
      <g transform="translate(374.7269 55.4603) scale(0.1 -0.1)">
       <use href="#DejaVuSans-31"/>
       <use href="#DejaVuSans-32" transform="translate(63.623047 0)"/>
      </g>
     </g>
    </g>
    <g id="text_32">
     <g transform="translate(367.8196 196.8872) rotate(-90) scale(0.1 -0.1)">
      <use href="#DejaVuSans-56"/>
      <use href="#DejaVuSans-61" transform="translate(60.658203 0)"/>
      <use href="#DejaVuSans-6c" transform="translate(121.9375 0)"/>
      <use href="#DejaVuSans-75" transform="translate(149.720703 0)"/>
      <use href="#DejaVuSans-65" transform="translate(213.099609 0)"/>
     </g>
    </g>
   </g>
   <g id="line2d_31">
    <path d="M 405.892562 304.492633 L 417.421488 302.764268 L 428.950413 301.676037 L 431.256198 301.142591 L 433.561983 300.673158 L 435.867769 300.694496 L 438.173554 300.971888 L 440.479339 301.328412 L 442.785124 301.550677 L 445.090909 301.422111 L 447.396694 300.781222 L 449.702479 299.629999 L 452.008264 298.046782 L 454.31405 296.128737 L 456.619835 293.978805 L 458.92562 291.640873 L 461.231405 289.090223 L 463.53719 286.297419 L 465.842975 283.310842 L 468.14876 280.312053 L 470.454545 277.594752 L 472.760331 275.450321 L 475.066116 274.049125 L 477.371901 273.458766 L 479.677686 273.657317 L 481.983471 274.493446 L 484.289256 275.803801 L 486.595041 277.502117 L 488.900826 279.492378 L 491.206612 281.649352 L 493.512397 283.872429 L 495.818182 286.088035 L 498.123967 288.227647 L 500.429752 290.228286 L 502.735537 292.069677 L 505.041322 293.783563 L 507.347107 295.394837 L 509.652893 296.874281 L 511.958678 298.175494 L 514.264463 299.292058 L 516.570248 300.247016 L 518.876033 301.062239 L 521.181818 301.756188 L 523.487603 302.34076 L 525.793388 302.821693 L 528.099174 303.213057 L 530.404959 303.5407 L 532.710744 303.830191 L 535.016529 304.097331 L 537.322314 304.3483 L 539.628099 304.584826 L 541.933884 304.808017 L 544.239669 305.019224 L 546.545455 305.220281 L 548.85124 305.413444 L 551.157025 305.599943 L 553.46281 305.778594 L 555.768595 305.946358 L 558.07438 306.099746 L 560.380165 306.236158 L 562.68595 306.355576 L 564.991736 306.460819 L 567.297521 306.5555 L 569.603306 306.642518 L 571.909091 306.724275 L 574.214876 306.802994 L 576.520661 306.88035 L 578.826446 306.956841 L 581.132231 307.031687 L 583.438017 307.103395 L 585.743802 307.170297 L 588.049587 307.23096 L 590.355372 307.284982 L 592.661157 307.333398 L 594.966942 307.377625 L 597.272727 307.418186 L 599.578512 307.454767 L 601.884298 307.486934 L 604.190083 307.514814 L 606.495868 307.539542 L 608.801653 307.562671 L 611.107438 307.585068 L 613.413223 307.606779 L 615.719008 307.627575 L 618.024793 307.64722 L 620.330579 307.665476 L 622.636364 307.682103 L 624.942149 307.696864 L 627.247934 307.70952 L 629.553719 307.72001 L 631.859504 307.728977 L 634.165289 307.73401 L 636.471074 307.735986 
" clip-path="url(#pfc087aac6c)" style="fill: none; stroke: #1f77b4; stroke-width: 1.5; stroke-linecap: square"/>
   </g>
   <g id="line2d_32">
    <path d="M 405.892562 225.009145 L 417.421488 209.432515 L 428.950413 180.41304 L 431.256198 163.129382 L 433.561983 132.829636 L 435.867769 55.8 L 438.173554 307.8 L 440.479339 307.717692 L 442.785124 307.638827 L 445.090909 307.564176 L 447.396694 307.494513 L 449.702479 307.430611 L 452.008264 307.373243 L 454.31405 307.317248 L 456.619835 307.259189 L 458.92562 307.202429 L 461.231405 307.150326 L 463.53719 307.106243 L 465.842975 307.07354 L 468.14876 307.055578 L 470.454545 307.053872 L 472.760331 307.059161 L 475.066116 307.069007 L 477.371901 307.082646 L 479.677686 307.099315 L 481.983471 307.11825 L 484.289256 307.138688 L 486.595041 307.159865 L 488.900826 307.188002 L 491.206612 307.227927 L 493.512397 307.276788 L 495.818182 307.33173 L 498.123967 307.3899 L 500.429752 307.448445 L 502.735537 307.50451 L 505.041322 307.555243 L 507.347107 307.59779 L 509.652893 307.629297 L 511.958678 307.654356 L 514.264463 307.679097 L 516.570248 307.702973 L 518.876033 307.725437 L 521.181818 307.745944 L 523.487603 307.763948 L 525.793388 307.778901 L 528.099174 307.790259 L 530.404959 307.797474 L 532.710744 307.8 L 535.016529 307.8 L 537.322314 307.8 L 539.628099 307.8 L 541.933884 307.8 L 544.239669 307.8 L 546.545455 307.8 L 548.85124 307.8 L 551.157025 307.8 L 553.46281 307.8 L 555.768595 307.8 L 558.07438 307.8 L 560.380165 307.8 L 562.68595 307.8 L 564.991736 307.8 L 567.297521 307.8 L 569.603306 307.8 L 571.909091 307.8 L 574.214876 307.8 L 576.520661 307.8 L 578.826446 307.8 L 581.132231 307.8 L 583.438017 307.8 L 585.743802 307.8 L 588.049587 307.8 L 590.355372 307.8 L 592.661157 307.8 L 594.966942 307.8 L 597.272727 307.8 L 599.578512 307.8 L 601.884298 307.8 L 604.190083 307.8 L 606.495868 307.8 L 608.801653 307.8 L 611.107438 307.8 L 613.413223 307.8 L 615.719008 307.8 L 618.024793 307.8 L 620.330579 307.8 L 622.636364 307.8 L 624.942149 307.8 L 627.247934 307.8 L 629.553719 307.8 L 631.859504 307.8 L 634.165289 307.8 L 636.471074 307.8 
" clip-path="url(#pfc087aac6c)" style="fill: none; stroke: #ff7f0e; stroke-width: 1.5; stroke-linecap: square"/>
   </g>
   <g id="line2d_33">
    <path d="M 405.892562 307.159865 L 417.421488 307.031837 L 428.950413 306.90381 L 431.256198 306.827239 L 433.561983 306.69789 L 435.867769 306.567745 L 438.173554 306.444247 L 440.479339 306.333389 L 442.785124 306.231482 L 445.090909 306.129921 L 447.396694 306.020267 L 449.702479 305.894916 L 452.008264 305.748258 L 454.31405 305.578599 L 456.619835 305.388074 L 458.92562 305.179212 L 461.231405 304.949273 L 463.53719 304.692336 L 465.842975 304.416213 L 468.14876 304.147994 L 470.454545 303.910134 L 472.760331 303.710475 L 475.066116 303.566614 L 477.371901 303.512487 L 479.677686 303.569229 L 481.983471 303.724916 L 484.289256 303.944026 L 486.595041 304.190286 L 488.900826 304.447544 L 491.206612 304.719706 L 493.512397 305.007027 L 495.818182 305.291975 L 498.123967 305.550326 L 500.429752 305.769081 L 502.735537 305.952346 L 505.041322 306.111621 L 507.347107 306.255555 L 509.652893 306.389216 L 511.958678 306.515793 L 514.264463 306.636135 L 516.570248 306.748613 L 518.876033 306.850688 L 521.181818 306.941299 L 523.487603 307.021864 L 525.793388 307.094376 L 528.099174 307.159176 L 530.404959 307.21539 L 532.710744 307.263037 L 535.016529 307.303963 L 537.322314 307.340571 L 539.628099 307.374232 L 541.933884 307.405313 L 544.239669 307.433908 L 546.545455 307.460116 L 548.85124 307.484032 L 551.157025 307.505752 L 553.46281 307.525414 L 555.768595 307.543314 L 558.07438 307.559927 L 560.380165 307.575687 L 562.68595 307.59079 L 564.991736 307.605251 L 567.297521 307.619044 L 569.603306 307.63214 L 571.909091 307.644512 L 574.214876 307.656134 L 576.520661 307.666977 L 578.826446 307.677015 L 581.132231 307.68622 L 583.438017 307.694565 L 585.743802 307.702022 L 588.049587 307.708592 L 590.355372 307.714391 L 592.661157 307.719675 L 594.966942 307.724705 L 597.272727 307.729602 L 599.578512 307.734376 L 601.884298 307.739007 L 604.190083 307.743477 L 606.495868 307.747766 L 608.801653 307.751856 L 611.107438 307.755727 L 613.413223 307.75936 L 615.719008 307.762737 L 618.024793 307.765838 L 620.330579 307.768644 L 622.636364 307.771137 L 624.942149 307.773297 L 627.247934 307.775105 L 629.553719 307.776567 L 631.859504 307.777794 L 634.165289 307.778442 L 636.471074 307.778662 
" clip-path="url(#pfc087aac6c)" style="fill: none; stroke: #2ca02c; stroke-width: 1.5; stroke-linecap: square"/>
   </g>
   <g id="patch_9">
    <path d="M 394.92 320.76 L 394.92 43.56 " style="fill: none; stroke: #000000; stroke-width: 0.8; stroke-linejoin: miter; stroke-linecap: square"/>
   </g>
   <g id="patch_10">
    <path d="M 648.36 320.76 L 648.36 43.56 " style="fill: none; stroke: #000000; stroke-width: 0.8; stroke-linejoin: miter; stroke-linecap: square"/>
   </g>
   <g id="patch_11">
    <path d="M 394.92 320.76 L 648.36 320.76 " style="fill: none; stroke: #000000; stroke-width: 0.8; stroke-linejoin: miter; stroke-linecap: square"/>
   </g>
   <g id="patch_12">
    <path d="M 394.92 43.56 L 648.36 43.56 " style="fill: none; stroke: #000000; stroke-width: 0.8; stroke-linejoin: miter; stroke-linecap: square"/>
   </g>
   <g id="text_33">
    <g transform="translate(473.0826 37.1453) scale(0.12 -0.12)">
     <defs>
      <path id="DejaVuSans-55" d="M 556 4666 L 1191 4666 L 1191 1831 Q 1191 1081 1462 751 Q 1734 422 2344 422 Q 2950 422 3222 751 Q 3494 1081 3494 1831 L 3494 4666 L 4128 4666 L 4128 1753 Q 4128 841 3676 375 Q 3225 -91 2344 -91 Q 1459 -91 1007 375 Q 556 841 556 1753 L 556 4666 z
" transform="scale(0.015625)"/>
     </defs>
     <use href="#DejaVuSans-52"/>
     <use href="#DejaVuSans-41" transform="translate(65.482422 0)"/>
     <use href="#DejaVuSans-54" transform="translate(126.140625 0)"/>
     <use href="#DejaVuSans-45" transform="translate(187.224609 0)"/>
     <use href="#DejaVuSans-5f" transform="translate(250.408203 0)"/>
     <use href="#DejaVuSans-56" transform="translate(300.408203 0)"/>
     <use href="#DejaVuSans-41" transform="translate(362.441406 0)"/>
     <use href="#DejaVuSans-4c" transform="translate(430.849609 0)"/>
     <use href="#DejaVuSans-53" transform="translate(486.5625 0)"/>
     <use href="#DejaVuSans-5f" transform="translate(550.039062 0)"/>
     <use href="#DejaVuSans-54" transform="translate(600.039062 0)"/>
     <use href="#DejaVuSans-41" transform="translate(653.373047 0)"/>
     <use href="#DejaVuSans-55" transform="translate(721.78125 0)"/>
    </g>
   </g>
   <g id="legend_2">
    <g id="patch_13">
     <path d="M 581.4 96.84 L 641.16 96.84 Q 643.32 96.84 643.32 94.68 L 643.32 50.76 Q 643.32 48.6 641.16 48.6 L 581.4 48.6 Q 579.24 48.6 579.24 50.76 L 579.24 94.68 Q 579.24 96.84 581.4 96.84 z
" style="fill: #ffffff; opacity: 0.8; stroke: #cccccc; stroke-linejoin: miter"/>
    </g>
    <g id="line2d_34">
     <path d="M 583.2 56.88 L 603.36 56.88 " style="fill: none; stroke: #1f77b4; stroke-width: 1.5; stroke-linecap: square"/>
    </g>
    <g id="text_34">
     <g transform="translate(611.1677 60.5808) scale(0.1 -0.1)">
      <use href="#DejaVuSans-36"/>
      <use href="#DejaVuSans-2e" transform="translate(63.623047 0)"/>
      <use href="#DejaVuSans-33" transform="translate(95.410156 0)"/>
      <use href="#DejaVuSans-b0" transform="translate(159.033203 0)"/>
      <use href="#DejaVuSans-43" transform="translate(209.033203 0)"/>
     </g>
    </g>
    <g id="line2d_35">
     <path d="M 583.2 72.0 L 603.36 72.0 " style="fill: none; stroke: #ff7f0e; stroke-width: 1.5; stroke-linecap: square"/>
    </g>
    <g id="text_35">
     <g transform="translate(610.9229 74.9120) scale(0.1 -0.1)">
      <use href="#DejaVuSans-33"/>
      <use href="#DejaVuSans-37" transform="translate(63.623047 0)"/>
      <use href="#DejaVuSans-b0" transform="translate(127.246094 0)"/>
      <use href="#DejaVuSans-43" transform="translate(177.246094 0)"/>
     </g>
    </g>
    <g id="line2d_36">
     <path d="M 583.2 87.12 L 603.36 87.12 " style="fill: none; stroke: #2ca02c; stroke-width: 1.5; stroke-linecap: square"/>
    </g>
    <g id="text_36">
     <g transform="translate(611.4708 90.1144) scale(0.1 -0.1)">
      <use href="#DejaVuSans-32"/>
      <use href="#DejaVuSans-33" transform="translate(63.623047 0)"/>
      <use href="#DejaVuSans-b0" transform="translate(127.246094 0)"/>
      <use href="#DejaVuSans-43" transform="translate(177.246094 0)"/>
     </g>
    </g>
   </g>
  </g>
  <g id="text_37">
   <g transform="translate(274.2415 16.9409) scale(0.12 -0.12)">
    <defs>
     <path id="DejaVuSans-66" d="M 2375 4863 L 2375 4384 L 1825 4384 Q 1516 4384 1395 4259 Q 1275 4134 1275 3809 L 1275 3500 L 2222 3500 L 2222 3053 L 1275 3053 L 1275 0 L 697 0 L 697 3053 L 147 3053 L 147 3500 L 697 3500 L 697 3744 Q 697 4328 969 4595 Q 1241 4863 1831 4863 L 2375 4863 z
" transform="scale(0.015625)"/>
     <path id="DejaVuSans-64" d="M 2906 2969 L 2906 4863 L 3481 4863 L 3481 0 L 2906 0 L 2906 525 Q 2725 213 2448 61 Q 2172 -91 1784 -91 Q 1150 -91 751 415 Q 353 922 353 1747 Q 353 2572 751 3078 Q 1150 3584 1784 3584 Q 2172 3584 2448 3432 Q 2725 3281 2906 2969 z M 947 1747 Q 947 1113 1208 752 Q 1469 391 1925 391 Q 2381 391 2643 752 Q 2906 1113 2906 1747 Q 2906 2381 2643 2742 Q 2381 3103 1925 3103 Q 1469 3103 1208 2742 Q 947 2381 947 1747 z
" transform="scale(0.015625)"/>
     <path id="DejaVuSans-70" d="M 1159 525 L 1159 -1331 L 581 -1331 L 581 3500 L 1159 3500 L 1159 2969 Q 1341 3281 1617 3432 Q 1894 3584 2278 3584 Q 2916 3584 3314 3078 Q 3713 2572 3713 1747 Q 3713 922 3314 415 Q 2916 -91 2278 -91 Q 1894 -91 1617 61 Q 1341 213 1159 525 z M 3116 1747 Q 3116 2381 2855 2742 Q 2594 3103 2138 3103 Q 1681 3103 1420 2742 Q 1159 2381 1159 1747 Q 1159 1113 1420 752 Q 1681 391 2138 391 Q 2594 391 2855 752 Q 3116 1113 3116 1747 z
" transform="scale(0.015625)"/>
     <path id="DejaVuSans-73" d="M 2834 3397 L 2834 2853 Q 2591 2978 2328 3040 Q 2066 3103 1784 3103 Q 1356 3103 1142 2972 Q 928 2841 928 2578 Q 928 2378 1081 2264 Q 1234 2150 1697 2047 L 1894 2003 Q 2506 1872 2764 1633 Q 3022 1394 3022 966 Q 3022 478 2636 193 Q 2250 -91 1575 -91 Q 1294 -91 989 -36 Q 684 19 347 128 L 347 722 Q 666 556 975 473 Q 1284 391 1588 391 Q 1994 391 2212 530 Q 2431 669 2431 922 Q 2431 1156 2273 1281 Q 2116 1406 1581 1522 L 1381 1569 Q 847 1681 609 1914 Q 372 2147 372 2553 Q 372 3047 722 3315 Q 1072 3584 1716 3584 Q 2034 3584 2315 3537 Q 2597 3491 2834 3397 z
" transform="scale(0.015625)"/>
    </defs>
    <use href="#DejaVuSans-69"/>
    <use href="#DejaVuSans-32" transform="translate(27.783203 0)"/>
    <use href="#DejaVuSans-20" transform="translate(91.40625 0)"/>
    <use href="#DejaVuSans-66" transform="translate(123.193359 0)"/>
    <use href="#DejaVuSans-6f" transform="translate(158.398438 0)"/>
    <use href="#DejaVuSans-72" transform="translate(219.580078 0)"/>
    <use href="#DejaVuSans-20" transform="translate(260.693359 0)"/>
    <use href="#DejaVuSans-64" transform="translate(292.480469 0)"/>
    <use href="#DejaVuSans-69" transform="translate(355.957031 0)"/>
    <use href="#DejaVuSans-66" transform="translate(383.740234 0)"/>
    <use href="#DejaVuSans-66" transform="translate(418.945312 0)"/>
    <use href="#DejaVuSans-65" transform="translate(454.150391 0)"/>
    <use href="#DejaVuSans-72" transform="translate(515.673828 0)"/>
    <use href="#DejaVuSans-65" transform="translate(554.537109 0)"/>
    <use href="#DejaVuSans-6e" transform="translate(616.060547 0)"/>
    <use href="#DejaVuSans-74" transform="translate(679.439453 0)"/>
    <use href="#DejaVuSans-20" transform="translate(718.648438 0)"/>
    <use href="#DejaVuSans-74" transform="translate(750.435547 0)"/>
    <use href="#DejaVuSans-65" transform="translate(789.644531 0)"/>
    <use href="#DejaVuSans-6d" transform="translate(851.167969 0)"/>
    <use href="#DejaVuSans-70" transform="translate(948.580078 0)"/>
    <use href="#DejaVuSans-65" transform="translate(1012.056641 0)"/>
    <use href="#DejaVuSans-72" transform="translate(1073.580078 0)"/>
    <use href="#DejaVuSans-61" transform="translate(1114.693359 0)"/>
    <use href="#DejaVuSans-74" transform="translate(1175.972656 0)"/>
    <use href="#DejaVuSans-75" transform="translate(1215.181641 0)"/>
    <use href="#DejaVuSans-72" transform="translate(1278.560547 0)"/>
    <use href="#DejaVuSans-65" transform="translate(1317.423828 0)"/>
    <use href="#DejaVuSans-73" transform="translate(1378.947266 0)"/>
   </g>
  </g>
 </g>
 <defs>
  <clipPath id="p08bcbeef4a">
   <rect x="90" y="43.2" width="253.636364" height="277.2"/>
  </clipPath>
  <clipPath id="pfc087aac6c">
   <rect x="394.363636" y="43.2" width="253.636364" height="277.2"/>
  </clipPath>
 </defs>
</svg>

</div>
<div id="labels"><span style="left:500px;top:18px;font-size:16.667px;transform:translate(-50%,-50%)">i2 for different temperatures</span><span style="left:301.1px;top:46px;font-size:16.667px;transform:translate(-50%,-50%)">RATE_VALS_SS</span><span style="left:301.1px;top:481px;font-size:13.889px;transform:translate(-50%,-50%)">Membrane Potential (mV)</span><span style="left:79px;top:254px;font-size:13.889px;transform:translate(-50%,-50%) rotate(-90deg)">Value</span><span style="left:141.01px;top:461px;font-size:13.889px;transform:translate(-50%,-50%)">−100</span><span style="left:221.07px;top:461px;font-size:13.889px;transform:translate(-50%,-50%)">−50</span><span style="left:301.13px;top:461px;font-size:13.889px;transform:translate(-50%,-50%)">0</span><span style="left:381.19px;top:461px;font-size:13.889px;transform:translate(-50%,-50%)">50</span><span style="left:461.25px;top:461px;font-size:13.889px;transform:translate(-50%,-50%)">100</span><span style="left:114.5px;top:427.5px;font-size:13.889px;transform:translate(-100%,-50%)">0.0</span><span style="left:114.5px;top:366.5px;font-size:13.889px;transform:translate(-100%,-50%)">0.1</span><span style="left:114.5px;top:305.5px;font-size:13.889px;transform:translate(-100%,-50%)">0.2</span><span style="left:114.5px;top:244.5px;font-size:13.889px;transform:translate(-100%,-50%)">0.3</span><span style="left:114.5px;top:183.5px;font-size:13.889px;transform:translate(-100%,-50%)">0.4</span><span style="left:114.5px;top:121.5px;font-size:13.889px;transform:translate(-100%,-50%)">0.5</span><span style="left:114.5px;top:60.5px;font-size:13.889px;transform:translate(-100%,-50%)">0.6</span><span style="left:426.5px;top:79px;font-size:13.889px;transform:translate(0,-50%)">37°C</span><span style="left:426.5px;top:100px;font-size:13.889px;transform:translate(0,-50%)">23°C</span><span style="left:426.5px;top:121px;font-size:13.889px;transform:translate(0,-50%)">6.3°C</span><span style="left:723.9px;top:46px;font-size:16.667px;transform:translate(-50%,-50%)">RATE_VALS_TAU</span><span style="left:723.9px;top:481px;font-size:13.889px;transform:translate(-50%,-50%)">Membrane Potential (mV)</span><span style="left:501.8px;top:254px;font-size:13.889px;transform:translate(-50%,-50%) rotate(-90deg)">Value</span><span style="left:563.81px;top:461px;font-size:13.889px;transform:translate(-50%,-50%)">−100</span><span style="left:643.87px;top:461px;font-size:13.889px;transform:translate(-50%,-50%)">−50</span><span style="left:723.93px;top:461px;font-size:13.889px;transform:translate(-50%,-50%)">0</span><span style="left:803.99px;top:461px;font-size:13.889px;transform:translate(-50%,-50%)">50</span><span style="left:884.05px;top:461px;font-size:13.889px;transform:translate(-50%,-50%)">100</span><span style="left:537.3px;top:428.5px;font-size:13.889px;transform:translate(-100%,-50%)">0</span><span style="left:537.3px;top:368.5px;font-size:13.889px;transform:translate(-100%,-50%)">2</span><span style="left:537.3px;top:309.5px;font-size:13.889px;transform:translate(-100%,-50%)">4</span><span style="left:537.3px;top:250.5px;font-size:13.889px;transform:translate(-100%,-50%)">6</span><span style="left:537.3px;top:190.5px;font-size:13.889px;transform:translate(-100%,-50%)">8</span><span style="left:537.3px;top:131.5px;font-size:13.889px;transform:translate(-100%,-50%)">10</span><span style="left:537.3px;top:72.5px;font-size:13.889px;transform:translate(-100%,-50%)">12</span><span style="left:849.3px;top:79px;font-size:13.889px;transform:translate(0,-50%)">6.3°C</span><span style="left:849.3px;top:100px;font-size:13.889px;transform:translate(0,-50%)">37°C</span><span style="left:849.3px;top:121px;font-size:13.889px;transform:translate(0,-50%)">23°C</span></div>
</body></html>
